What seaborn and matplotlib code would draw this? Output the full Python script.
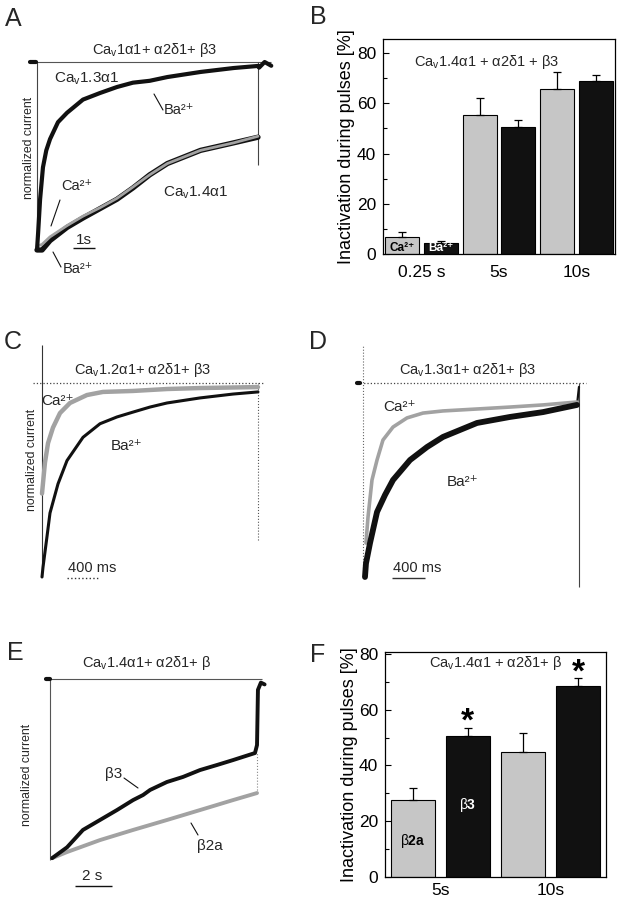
import pandas as pd
import seaborn as sns
import matplotlib.pyplot as plt
from matplotlib.lines import Line2D
from matplotlib.ticker import MultipleLocator

sns.set_theme(style="white")
plt.rcParams["font.family"] = ["Liberation Sans", "DejaVu Sans"]
plt.rcParams["mathtext.fontset"] = "custom"
plt.rcParams["mathtext.rm"] = "Liberation Sans"
plt.rcParams["mathtext.bf"] = "Liberation Sans:bold"
plt.rcParams["mathtext.default"] = "regular"

W, H = 617, 900
BLACK = "#111111"
GREY = "#a2a2a2"
BAR_GREY = "#c6c6c6"

# ---------------- data: traces (time, normalized current) ----------------
# A: 10 s pulses, time in s
a13_ba_t = [0.0, 0.05, 0.14, 0.27, 0.42, 0.59, 0.95, 1.36, 2.08, 2.85, 3.62,
            4.34, 5.1, 5.9, 7.4, 8.9, 10.0, 10.05, 10.3, 10.6]
a13_ba_i = [-1.0, -0.91, -0.73, -0.56, -0.47, -0.41, -0.32, -0.27, -0.20,
            -0.165, -0.133, -0.11, -0.10, -0.08, -0.053, -0.032, -0.021,
            -0.03, 0.0, -0.02]
a14_t = [0.0, 0.23, 0.59, 1.36, 2.08, 2.85, 3.62, 4.34, 5.1, 5.9, 7.4, 8.9, 10.0]
a14_ba_i = [-1.0, -1.0, -0.95, -0.88, -0.83, -0.78, -0.73, -0.67, -0.60,
            -0.54, -0.47, -0.43, -0.40]
a14_ca_i = [-0.98, -0.97, -0.93, -0.87, -0.82, -0.775, -0.725, -0.665, -0.60,
            -0.54, -0.47, -0.43, -0.395]
a14_tail = -0.55

# C: Cav1.2, time in ms
c_ba_t = [0, 12, 61, 97, 194, 303, 497, 703, 909, 1103, 1309, 1515, 1915,
          2315, 2618]
c_ba_i = [-1.0, -0.95, -0.79, -0.67, -0.52, -0.40, -0.28, -0.21, -0.175,
          -0.15, -0.124, -0.103, -0.077, -0.057, -0.046]
c_ca_t = [0, 36, 73, 133, 218, 339, 545, 739, 1103, 1515, 1915, 2618]
c_ca_i = [-0.57, -0.41, -0.31, -0.23, -0.155, -0.103, -0.062, -0.046,
          -0.041, -0.031, -0.026, -0.021]
c_tail = -0.81

# D: Cav1.3, time in ms
d_ba_t = [24, 36, 85, 170, 267, 364, 570, 776, 970, 1176, 1382, 1782, 2182,
          2594]
d_ba_i = [-1.0, -0.93, -0.825, -0.665, -0.577, -0.50, -0.397, -0.33, -0.278,
          -0.242, -0.206, -0.175, -0.15, -0.113]
d_ca_t = [36, 61, 109, 170, 242, 364, 533, 727, 970, 1382, 1782, 2182, 2594]
d_ca_i = [-0.825, -0.69, -0.50, -0.397, -0.294, -0.227, -0.18, -0.155,
          -0.144, -0.134, -0.124, -0.113, -0.098]
d_end_t = 2618
d_tail = -1.05

# E: Cav1.4 with beta3 / beta2a, time in s
e_b3_t = [0.11, 0.92, 1.78, 2.70, 3.62, 4.49, 5.03, 5.41, 6.32, 7.19, 8.11,
          9.03, 9.89, 11.08, 11.19, 11.24, 11.4, 11.6]
e_b3_i = [-0.99, -0.93, -0.834, -0.779, -0.724, -0.669, -0.641, -0.613,
          -0.569, -0.541, -0.503, -0.475, -0.448, -0.409, -0.365, -0.06,
          -0.02, -0.03]
e_b2a_t = [0.11, 0.92, 2.70, 4.49, 6.32, 8.11, 9.89, 11.19]
e_b2a_i = [-0.99, -0.956, -0.89, -0.834, -0.779, -0.724, -0.669, -0.63]

# ---------------- data: bars (inactivation %) ----------------
b_pulses = ["0.25 s", "5s", "10s"]
b_ca = [6.7, 55.5, 65.5]
b_ca_err = [2.0, 6.7, 7.0]
b_ba = [4.5, 50.5, 68.8]
b_ba_err = [0.7, 3.0, 2.6]

f_pulses = ["5s", "10s"]
f_b2a = [27.5, 45.0]
f_b2a_err = [4.5, 6.5]
f_b3 = [50.5, 68.5]
f_b3_err = [3.0, 2.8]


def rect(x0, y0, x1, y1):
    return [x0 / W, 1 - y1 / H, (x1 - x0) / W, (y1 - y0) / H]


def ftext(x, y, s, size=11, **kw):
    kw.setdefault("ha", "center")
    kw.setdefault("va", "center")
    fig.text(x / W, 1 - y / H, s, fontsize=size, **kw)


def fline(x0, y0, x1, y1, **kw):
    fig.add_artist(Line2D([x0 / W, x1 / W], [1 - y0 / H, 1 - y1 / H],
                          transform=fig.transFigure, color=BLACK,
                          lw=kw.pop("lw", 0.8), **kw))


def trace_axes(box, origin, scale):
    x0, y0, x1, y1 = box
    ox, oy = origin
    sx, sy = scale
    ax = fig.add_axes(rect(*box))
    ax.set_xlim((x0 - ox) / sx, (x1 - ox) / sx)
    ax.set_ylim(-(y1 - oy) / sy, -(y0 - oy) / sy)
    ax.axis("off")
    return ax


def trace(ax, t, i, color, lw):
    sns.lineplot(x=t, y=i, ax=ax, color=color, linewidth=lw, sort=False,
                 estimator=None, solid_joinstyle="round")


def bar_panel(box, pulses, first, first_err, second, second_err, ylim, gap,
              xpad):
    ax = fig.add_axes(rect(*box))
    n = len(pulses)
    df = pd.DataFrame({
        "pulse": pulses * 2,
        "group": ["a"] * n + ["b"] * n,
        "value": first + second,
    })
    sns.barplot(data=df, x="pulse", y="value", hue="group",
                palette=[BAR_GREY, BLACK], saturation=1, width=1.0, gap=gap,
                edgecolor="black", linewidth=0.8, errorbar=None,
                legend=False, ax=ax)
    for patch, err in zip(ax.patches, first_err + second_err):
        xc = patch.get_x() + patch.get_width() / 2
        ax.errorbar(xc, patch.get_height(), yerr=[[0], [err]], fmt="none",
                    ecolor="black", elinewidth=0.9, capsize=2.8,
                    capthick=0.9, zorder=1)
    ax.set_xlim(-0.5, n - 0.5)
    ax.set_ylim(*ylim)
    ax.yaxis.set_major_locator(MultipleLocator(20))
    ax.yaxis.set_minor_locator(MultipleLocator(10))
    ax.tick_params(axis="y", which="both", direction="in", left=True,
                   right=False, width=0.8, labelsize=12.5, pad=5,
                   colors="black")
    ax.tick_params(axis="y", which="major", length=4.5)
    ax.tick_params(axis="y", which="minor", length=3)
    ax.tick_params(axis="x", length=0, labelsize=12.5, colors="black",
                   pad=xpad)
    for sp in ax.spines.values():
        sp.set_visible(True)
        sp.set_color("black")
        sp.set_linewidth(0.9)
    ax.set_xlabel("")
    ax.set_ylabel("Inactivation during pulses [%]", fontsize=13,
                  color="black")
    ax.yaxis.set_label_coords(-0.12, 0.5)
    return ax


fig = plt.figure(figsize=(W / 100, H / 100), dpi=100)

# ---------------- A ----------------
ax = trace_axes((20, 40, 290, 290), (37, 62), (22.1, 188))
ax.hlines(0, -0.35, 10.6, color="#555555", lw=0.8)
ax.vlines(a13_ba_t[0], a13_ba_i[0], 0, color="#444444", lw=0.8)
ax.vlines(a14_t[-1], a14_tail, 0, color="#444444", lw=0.8)
trace(ax, [-0.3, -0.05], [0.0, 0.0], BLACK, 3)
trace(ax, a14_t, a14_ba_i, BLACK, 3.8)
trace(ax, a14_t, a14_ca_i, GREY, 2.0)
trace(ax, a13_ba_t, a13_ba_i, BLACK, 3.0)
ax.hlines(-0.99, 1.63, 1.63 + 1.0, color=BLACK, lw=1.0)

ftext(13, 19, "A", size=18)
ftext(155, 50, r"Ca$_{v}$1α1+ α2δ1+ β3", size=10.5)
ftext(87, 79, r"Ca$_{v}$1.3α1", size=11)
ftext(179, 110, "Ba²⁺", size=10.5)
fline(154, 94, 163, 110)
ftext(77, 186, "Ca²⁺", size=10.5)
fline(60, 200, 51, 226)
ftext(196, 193, r"Ca$_{v}$1.4α1", size=11)
ftext(84, 240, "1s", size=11)
ftext(78, 269, "Ba²⁺", size=10.5)
fline(53, 252, 61, 267)
ftext(29, 148, "normalized current", size=8.8, rotation=90)

# ---------------- B ----------------
ax = bar_panel((383, 39, 615, 254), b_pulses, b_ca, b_ca_err, b_ba,
               b_ba_err, (0, 85.6), 0.12, 8)
p = ax.patches
ax.text(p[0].get_x() + p[0].get_width() / 2, 2.4, "Ca²⁺",
        ha="center", va="center", fontsize=8.5, fontweight="bold",
        color="black")
ax.text(p[3].get_x() + p[3].get_width() / 2, 2.4, "Ba²⁺",
        ha="center", va="center", fontsize=8.5, fontweight="bold",
        color="white")
ftext(318, 17, "B", size=18)
ftext(487, 62, r"Ca$_{v}$1.4α1 + α2δ1 + β3", size=10.5)

# ---------------- C ----------------
ax = trace_axes((25, 335, 295, 595), (42, 383), (0.0825, 194))
ax.hlines(0, -109, 2680, color="#444444", lw=0.9, linestyles=":")
ax.vlines(0, -1.0, 0.196, color="#333333", lw=0.8)
ax.vlines(c_ba_t[-1], c_tail, 0, color="#555555", lw=0.8, linestyles=":")
trace(ax, c_ca_t, c_ca_i, GREY, 3.2)
trace(ax, c_ba_t, c_ba_i, BLACK, 2.2)
ax.hlines(-1.005, 303, 303 + 400, color="#333333", lw=1.0, linestyles=":")

ftext(13, 342, "C", size=18)
ftext(143, 370, r"Ca$_{v}$1.2α1+ α2δ1+ β3", size=10.5)
ftext(57, 401, "Ca²⁺", size=11)
ftext(127, 446, "Ba²⁺", size=11)
ftext(92, 568, "400 ms", size=10.5)
ftext(32, 460, "normalized current", size=8.8, rotation=90)

# ---------------- D ----------------
ax = trace_axes((340, 335, 600, 600), (363, 383), (0.0825, 194))
ax.hlines(0, -73, 2703, color="#444444", lw=0.9, linestyles=":")
ax.vlines(0, -1.0, 0.196, color="#666666", lw=0.8, linestyles=":")
ax.vlines(d_end_t, d_tail, 0, color="#444444", lw=0.8)
trace(ax, [-73, -40], [0.0, 0.0], BLACK, 3)
trace(ax, [d_ba_t[-1], d_end_t], [d_ba_i[-1], -0.02], BLACK, 1.6)
trace(ax, d_ca_t, d_ca_i, GREY, 2.6)
trace(ax, d_ba_t, d_ba_i, BLACK, 4.2)
ax.hlines(-1.005, 352, 352 + 400, color="#333333", lw=1.0)

ftext(318, 342, "D", size=18)
ftext(468, 370, r"Ca$_{v}$1.3α1+ α2δ1+ β3", size=10.5)
ftext(400, 407, "Ca²⁺", size=11)
ftext(463, 482, "Ba²⁺", size=11)
ftext(417, 568, "400 ms", size=10.5)

# ---------------- E ----------------
ax = trace_axes((35, 640, 290, 895), (50, 679), (18.5, 181))
ax.hlines(0, -0.16, 11.46, color="#555555", lw=0.8)
ax.vlines(0, -1.0, 0, color="#555555", lw=0.8)
ax.vlines(e_b2a_t[-1], e_b2a_i[-1], e_b3_i[-5], color="#888888", lw=0.8,
          linestyles=":")
trace(ax, [-0.2, 0.0], [0.0, 0.0], BLACK, 3)
trace(ax, e_b2a_t, e_b2a_i, GREY, 2.8)
trace(ax, e_b3_t, e_b3_i, BLACK, 2.8)
ax.hlines(-1.144, 1.35, 1.35 + 2.0, color=BLACK, lw=1.0)

ftext(15, 653, "E", size=18)
ftext(147, 663, r"Ca$_{v}$1.4α1+ α2δ1+ β", size=10.5)
ftext(114, 774, "β3", size=11)
fline(124, 778, 138, 788)
ftext(210, 846, "β2a", size=11)
fline(191, 823, 198, 835)
ftext(92, 876, "2 s", size=11)
ftext(27, 775, "normalized current", size=8.8, rotation=90)

# ---------------- F ----------------
ax = bar_panel((385, 652, 606, 877), f_pulses, f_b2a, f_b2a_err, f_b3,
               f_b3_err, (0, 80.7), 0.2, 4)
p = ax.patches
ax.text(p[0].get_x() + p[0].get_width() / 2, 12.8, r"β$\mathbf{2a}$",
        ha="center", va="center", fontsize=10, color="black")
ax.text(p[2].get_x() + p[2].get_width() / 2, 26, r"β$\mathbf{3}$",
        ha="center", va="center", fontsize=10, color="white")
for k, (v, e) in enumerate(zip(f_b3, f_b3_err)):
    bar = p[2 + k]
    ax.text(bar.get_x() + bar.get_width() / 2, v + e + 2.0, "*",
            ha="center", va="center", fontsize=24, fontweight="bold",
            color="black")
ftext(318, 655, "F", size=18)
ftext(496, 663, r"Ca$_{v}$1.4α1 + α2δ1+ β", size=10.5)

fig.savefig("out.png", dpi=100)
